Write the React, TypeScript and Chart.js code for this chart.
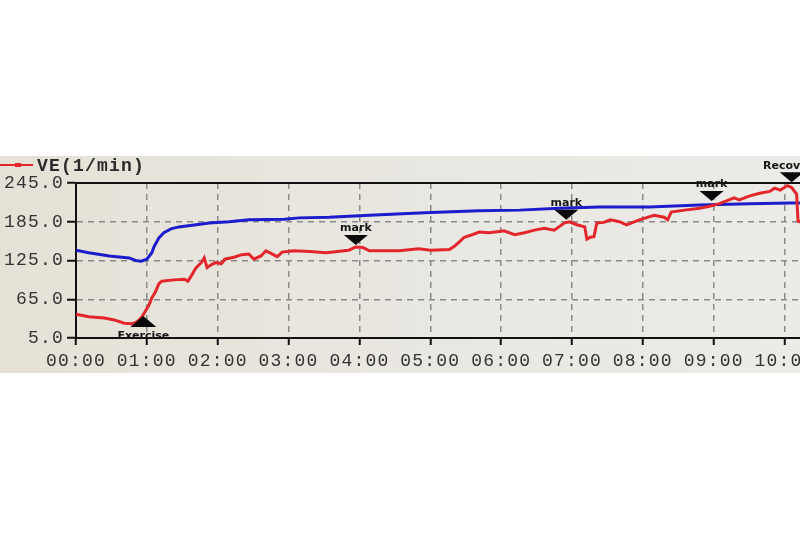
import { useEffect, useRef } from 'react';
import { Chart, registerables } from 'chart.js';

Chart.register(...registerables);

// Time in minutes, values in l/min
const redTimes = [
  0.0, 0.18, 0.4, 0.54, 0.68, 0.79, 0.86, 0.92, 0.97, 1.03, 1.07, 1.12, 1.17, 1.21, 1.38, 1.53, 1.58, 1.62, 1.69,
  1.77, 1.81, 1.85, 1.9, 1.98, 2.05, 2.1, 2.23, 2.34, 2.44, 2.51, 2.61, 2.68, 2.75, 2.84, 2.91, 3.08, 3.3, 3.53,
  3.85, 3.95, 4.05, 4.14, 4.56, 4.84, 5.0, 5.27, 5.34, 5.41, 5.48, 5.62, 5.69, 5.83, 5.97, 6.04, 6.19, 6.33, 6.47,
  6.61, 6.75, 6.89, 6.96, 7.08, 7.18, 7.21, 7.26, 7.31, 7.35, 7.45, 7.54, 7.67, 7.77, 7.95, 8.16, 8.3, 8.35, 8.4,
  8.59, 8.8, 8.94, 9.08, 9.29, 9.36, 9.51, 9.65, 9.79, 9.86, 9.94, 10.04, 10.1, 10.17, 10.19, 10.3,
];
const redValues = [
  42, 38, 36, 33, 28, 27, 30, 36, 45, 56, 67, 76, 89, 93, 95, 96, 93, 100, 113,
  122, 129, 114, 118, 122, 120, 127, 130, 134, 135, 127, 132, 140, 136, 131, 138, 140, 139, 137,
  141, 146, 145, 140, 140, 143, 141, 142, 147, 154, 161, 166, 169, 168, 170, 171, 165, 168, 172,
  175, 172, 183, 185, 180, 177, 158, 161, 162, 183, 184, 188, 185, 180, 188, 195, 192, 188, 200,
  203, 206, 209, 213, 222, 219, 225, 229, 232, 237, 234, 241, 238, 228, 186, 182,
];

const blueTimes = [
  0.0, 0.18, 0.47, 0.75, 0.84, 0.92, 1.0, 1.07, 1.1, 1.17, 1.24, 1.34, 1.45, 1.67, 1.88, 2.16, 2.44, 2.94, 3.15,
  3.57, 3.93, 4.14, 4.92, 5.69, 6.26, 6.82, 7.39, 8.09, 8.8, 9.51, 10.07, 10.35,
];
const blueValues = [
  141, 137, 132, 129, 125, 124, 127, 137, 146, 160, 168, 174, 177, 180, 183, 185, 188, 189, 191,
  192, 194, 195, 199, 202, 203, 206, 208, 208, 211, 213, 214, 214,
];

const yTickValues = [5, 65, 125, 185, 245];
const xTickMinutes = [0, 1, 2, 3, 4, 5, 6, 7, 8, 9, 10];

const markerTimes = [3.95, 6.92, 8.97, 10.1];
const markerValues = [149, 188, 217, 246];
const markerLabels = ['mark', 'mark', 'mark', 'Recovery'];

const startTime = 0.95;
const startValue = 39;
const startLabel = 'Exercise';

const legendLabel = 'VE(1/min)';
const otherLabel = 'VO2';

const MONO = '"Liberation Mono", "DejaVu Sans Mono", monospace';

const decorPlugin = {
  id: 'decor',
  beforeDraw(chart: any) {
    const { ctx, width, height } = chart;
    ctx.save();
    ctx.fillStyle = '#ffffff';
    ctx.fillRect(0, 0, width, height);
    const g = ctx.createLinearGradient(0, 0, width, 0);
    g.addColorStop(0, '#e5e1d6');
    g.addColorStop(0.5, '#e9e7e1');
    g.addColorStop(1, '#ecebe8');
    ctx.fillStyle = g;
    ctx.fillRect(0, 156, width, 217);
    ctx.restore();
    ctx.letterSpacing = '1.2px';
  },
  beforeDatasetsDraw(chart: any) {
    const { ctx, chartArea, scales } = chart;
    const y = scales.y.getPixelForValue(245);
    ctx.save();
    ctx.strokeStyle = '#111';
    ctx.lineWidth = 2;
    ctx.beginPath();
    ctx.moveTo(chartArea.left, y);
    ctx.lineTo(chartArea.right, y);
    ctx.stroke();
    ctx.restore();
  },
  afterDraw(chart: any) {
    const { ctx, scales } = chart;
    const xs = scales.x;
    const ys = scales.y;
    ctx.save();
    ctx.letterSpacing = '0px';
    // markers
    for (let i = 0; i < markerTimes.length; i++) {
      const px = xs.getPixelForValue(markerTimes[i]);
      const py = ys.getPixelForValue(markerValues[i]);
      ctx.fillStyle = '#0a0a0a';
      ctx.beginPath();
      ctx.moveTo(px, py);
      ctx.lineTo(px - 12, py - 10);
      ctx.lineTo(px + 12, py - 10);
      ctx.closePath();
      ctx.fill();
      ctx.font = 'bold 11px "DejaVu Sans", sans-serif';
      ctx.textAlign = 'center';
      ctx.textBaseline = 'bottom';
      ctx.fillStyle = '#151515';
      ctx.fillText(markerLabels[i], px, py - 11);
    }
    // exercise start marker
    const sx = xs.getPixelForValue(startTime);
    const sy = ys.getPixelForValue(startValue);
    ctx.fillStyle = '#0a0a0a';
    ctx.beginPath();
    ctx.moveTo(sx, sy);
    ctx.lineTo(sx - 13, sy + 11);
    ctx.lineTo(sx + 13, sy + 11);
    ctx.closePath();
    ctx.fill();
    ctx.font = 'bold 11px "DejaVu Sans", sans-serif';
    ctx.textAlign = 'center';
    ctx.textBaseline = 'middle';
    ctx.fillStyle = '#151515';
    ctx.fillText(startLabel, sx, sy + 20);
    // legend
    ctx.strokeStyle = '#e3262b';
    ctx.lineWidth = 2;
    ctx.beginPath();
    ctx.moveTo(0, 165);
    ctx.lineTo(33, 165);
    ctx.stroke();
    ctx.fillStyle = '#e3262b';
    ctx.fillRect(15, 163, 6, 4);
    ctx.letterSpacing = '1.2px';
    ctx.font = `bold 18px ${MONO}`;
    ctx.fillStyle = '#2a2a2a';
    ctx.textAlign = 'left';
    ctx.textBaseline = 'middle';
    ctx.fillText(legendLabel, 37, 166);
    ctx.restore();
    ctx.letterSpacing = '0px';
  },
};

export default function App() {
  const ref = useRef<HTMLCanvasElement>(null);
  useEffect(() => {
    const canvas = ref.current!;
    const chart = new Chart(canvas, {
      type: 'line',
      data: {
        datasets: [
          {
            label: legendLabel,
            data: redTimes.map((t, i) => ({ x: t, y: redValues[i] })),
            borderColor: '#e3262b',
            backgroundColor: '#e3262b',
            borderWidth: 3,
            pointRadius: 0,
            tension: 0,
          },
          {
            label: otherLabel,
            data: blueTimes.map((t, i) => ({ x: t, y: blueValues[i] })),
            borderColor: '#1c1ccc',
            backgroundColor: '#1c1ccc',
            borderWidth: 3,
            pointRadius: 0,
            tension: 0,
          },
        ],
      },
      options: {
        responsive: false,
        animation: false,
        devicePixelRatio: 1,
        layout: { padding: { top: 183, left: 0, right: 0, bottom: 0 } },
        plugins: { legend: { display: false }, tooltip: { enabled: false } },
        scales: {
          x: {
            type: 'linear',
            min: 0,
            max: 10.5,
            afterBuildTicks: (scale: any) => {
              scale.ticks = xTickMinutes.map((v) => ({ value: v }));
            },
            afterFit: (scale: any) => {
              scale.height = 195;
            },
            ticks: {
              autoSkip: false,
              maxRotation: 0,
              padding: 5,
              color: '#333',
              font: { family: MONO, size: 18 },
              callback: (v: any) => `${String(v).padStart(2, '0')}:00`,
            },
            grid: {
              color: (c: any) => (c.tick && c.tick.value === 0 ? 'rgba(0,0,0,0)' : '#8a8a8a'),
              lineWidth: 1.5,
              tickColor: '#111',
              tickWidth: 2,
              tickLength: 7,
              tickBorderDash: [],
            },
            border: { display: true, color: '#111', width: 2, dash: [6, 5] },
          },
          y: {
            type: 'linear',
            min: 5,
            max: 245,
            afterBuildTicks: (scale: any) => {
              scale.ticks = yTickValues.map((v) => ({ value: v }));
            },
            afterFit: (scale: any) => {
              scale.width = 76;
            },
            ticks: {
              padding: 3,
              color: '#333',
              font: { family: MONO, size: 18 },
              callback: (v: any) => Number(v).toFixed(1),
            },
            grid: {
              color: (c: any) =>
                c.tick && (c.tick.value === 5 || c.tick.value === 245) ? 'rgba(0,0,0,0)' : '#8a8a8a',
              lineWidth: 1.5,
              tickColor: '#111',
              tickWidth: 2,
              tickLength: 9,
              tickBorderDash: [],
            },
            border: { display: true, color: '#111', width: 2, dash: [6, 5] },
          },
        },
      },
      plugins: [decorPlugin],
    });
    return () => chart.destroy();
  }, []);
  return (
    <div
      style={{
        position: 'fixed',
        left: 0,
        top: 0,
        width: 800,
        height: 533,
        overflow: 'hidden',
        background: '#fff',
      }}
    >
      <canvas ref={ref} width={820} height={533} style={{ display: 'block', width: 820, height: 533 }} />
    </div>
  );
}
